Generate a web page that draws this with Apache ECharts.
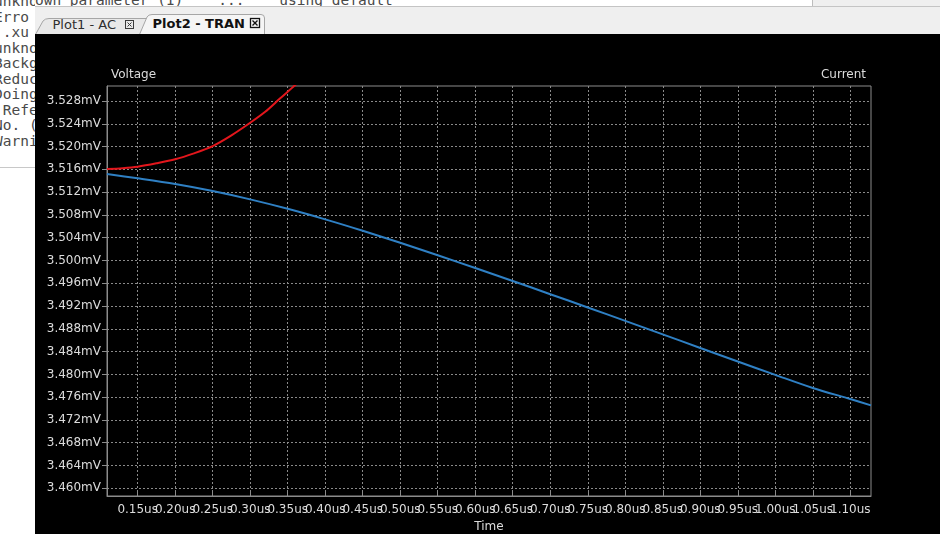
<!DOCTYPE html>
<html>
<head>
<meta charset="utf-8">
<script src="https://cdn.jsdelivr.net/npm/echarts@6/dist/echarts.min.js"></script>
<style>
  html, body { margin: 0; padding: 0; width: 940px; height: 534px; overflow: hidden; background: #ffffff; font-family: "DejaVu Sans", sans-serif; }
  #console { position: absolute; left: 0; top: 0; width: 35px; height: 167px; overflow: hidden; background: #fff; }
  #console pre { position: absolute; left: -6px; top: -6px; margin: 0; font-family: "DejaVu Sans Mono", monospace; font-size: 14.5px; line-height: 15.5px; color: #4a4a4a; }
  #topline { position: absolute; left: 0; top: -8px; width: 812px; height: 14px; overflow: hidden; font-family: "DejaVu Sans Mono", monospace; font-size: 14.5px; color: #4a4a4a; white-space: pre; background: #fff; }
  #sep { position: absolute; left: 0; top: 167px; width: 35px; height: 1px; background: #c8c8c8; }
  #rightstrip { position: absolute; left: 812px; top: 0; width: 128px; height: 9px; background: #efefef; border-left: 1px solid #bdbdbd; }
  #panel { position: absolute; left: 35px; top: 6px; width: 905px; height: 528px; background: #efefef; border-top: 1px solid #c4c4c4; }
  #tabs { position: absolute; left: 0; top: 0; }
  .tl { position: absolute; font-size: 13px; color: #2e2e2e; white-space: nowrap; line-height: 16px; }
  #chart { position: absolute; left: 35px; top: 34px; width: 905px; height: 500px; background: #000; }
</style>
</head>
<body>
<div id="topline">unknown parameter (1)    ...    using default</div>
<div id="rightstrip"></div>
<div id="console"><pre>
unknown parameter
Erro  r: check
:.xu subcircuit
unknown model
Background thread
Reduced analysis
Doing analysis
 Reference value
No. (data rows)
Warning: no data</pre></div>
<div id="sep"></div>
<div id="panel">
  <svg id="tabs" width="300" height="28" viewBox="0 0 300 28">
    <path d="M0.5,27.5 L8,14 Q10,11.5 14,11.5 L112,11.5 L112,27.5" fill="#e8e8e8" stroke="#a6a6a6" stroke-width="1"/>
    <path d="M104.5,27.5 L112,10 Q113.5,7.5 117,7.5 L226,7.5 Q229.5,7.5 229.5,11 L229.5,27.5" fill="#f5f5f5" stroke="#a6a6a6" stroke-width="1"/>
    <line x1="0" y1="27.5" x2="104.5" y2="27.5" stroke="#a6a6a6"/>
    <line x1="229.5" y1="27.5" x2="905" y2="27.5" stroke="#a6a6a6"/>
    <g stroke="#3a3a3a" stroke-width="1" fill="none">
      <rect x="90.5" y="13.5" width="8" height="8"/>
      <path d="M92.5,15.5 L96.5,19.5 M96.5,15.5 L92.5,19.5"/>
    </g>
    <g stroke="#111" stroke-width="1.3" fill="none">
      <rect x="215.5" y="11.5" width="9" height="9"/>
      <path d="M217.5,13.5 L222.5,18.5 M222.5,13.5 L217.5,18.5"/>
    </g>
  </svg>
  <div class="tl" style="left:17.5px; top:10px;">Plot1 - AC</div>
  <div class="tl" style="left:117.5px; top:9px; font-weight:bold; color:#111;">Plot2 - TRAN</div>
</div>
<div id="chart"></div>
<script>
// ---- data (time in us, voltage in mV) ----
const xTicks = [0.15, 0.20, 0.25, 0.30, 0.35, 0.40, 0.45, 0.50, 0.55, 0.60, 0.65, 0.70, 0.75, 0.80, 0.85, 0.90, 0.95, 1.00, 1.05, 1.10];
const yTicks = [3.460, 3.464, 3.468, 3.472, 3.476, 3.480, 3.484, 3.488, 3.492, 3.496, 3.500, 3.504, 3.508, 3.512, 3.516, 3.520, 3.524, 3.528];

const redTime  = [0.1091, 0.13, 0.15, 0.175, 0.20, 0.225, 0.25, 0.275, 0.30, 0.32, 0.34, 0.36, 0.38];
const redVolt  = [3.51605, 3.5162, 3.51646, 3.51705, 3.51776, 3.51881, 3.52009, 3.52197, 3.52418, 3.52611, 3.52847, 3.5308, 3.5333];

const blueTime = [0.1091, 0.15, 0.20, 0.25, 0.30, 0.35, 0.40, 0.45, 0.50, 0.55, 0.60, 0.65, 0.70, 0.75, 0.80, 0.85, 0.90, 0.95, 1.00, 1.05, 1.10, 1.1276];
const blueVolt = [3.51517, 3.51442, 3.51342, 3.51219, 3.51073, 3.50907, 3.50722, 3.50522, 3.50310, 3.50092, 3.49868, 3.49640, 3.49408, 3.49175, 3.48940, 3.48703, 3.48464, 3.48226, 3.47992, 3.47762, 3.47567, 3.47456];

const xMin = 0.1091, xMax = 1.1276;
const yMin = 3.45865, yMax = 3.53063;

const pairs = (xs, ys) => xs.map((x, i) => [x, ys[i]]);
const isTick = (list, v) => list.some(t => Math.abs(t - v) < 1e-9);

const chart = echarts.init(document.getElementById('chart'));
const txt = '#dcdcdc';
const axisGray = '#8c8c8c';
chart.setOption({
  backgroundColor: '#000000',
  animation: false,
  textStyle: { fontFamily: 'DejaVu Sans' },
  grid: { left: 72, top: 52, right: 69, bottom: 38, containLabel: false, outerBoundsMode: 'none',
          show: true, borderColor: axisGray, borderWidth: 1, backgroundColor: 'transparent' },
  graphic: [
    { type: 'text', left: 76, top: 35, style: { text: 'Voltage', fill: txt, font: '12px "DejaVu Sans"' } },
    { type: 'text', right: 905 - 831, top: 35, style: { text: 'Current', fill: txt, font: '12px "DejaVu Sans"' } }
  ],
  xAxis: {
    type: 'value',
    min: xMin, max: xMax,
    splitNumber: 20, minInterval: 0.05, maxInterval: 0.05,
    name: 'Time', nameLocation: 'middle', nameGap: 23,
    nameTextStyle: { color: txt, fontSize: 12, fontFamily: 'DejaVu Sans' },
    axisLine: { show: true, lineStyle: { color: axisGray, width: 1 } },
    axisTick: { show: true, inside: true, length: 5, lineStyle: { color: axisGray }, customValues: xTicks },
    axisLabel: { color: txt, fontSize: 12, fontFamily: 'DejaVu Sans', margin: 8, hideOverlap: false,
                 showMinLabel: true, showMaxLabel: true, customValues: [xMin].concat(xTicks, [xMax]),
                 formatter: v => isTick(xTicks, v) ? v.toFixed(2) + 'us' : '' },
    splitLine: { show: true, lineStyle: { color: '#8a8a8a', type: [2, 2], width: 1 } }
  },
  yAxis: {
    type: 'value',
    min: yMin, max: yMax,
    splitNumber: 18, minInterval: 0.004, maxInterval: 0.004,
    axisLine: { show: true, lineStyle: { color: axisGray, width: 1 } },
    axisTick: { show: true, inside: false, length: 5, lineStyle: { color: axisGray }, customValues: yTicks },
    axisLabel: { color: txt, fontSize: 12, fontFamily: 'DejaVu Sans', margin: 6,
                 showMinLabel: true, showMaxLabel: true, customValues: yTicks,
                 formatter: v => v.toFixed(3) + 'mV' },
    splitLine: { show: true, lineStyle: { color: '#8a8a8a', type: [2, 2], width: 1 } }
  },
  series: [
    { name: 'V(in)', type: 'line', data: pairs(redTime, redVolt), showSymbol: false, smooth: 0.3, clip: true,
      lineStyle: { color: '#e3161c', width: 2 }, itemStyle: { color: '#e3161c' } },
    { name: 'V(out)', type: 'line', data: pairs(blueTime, blueVolt), showSymbol: false, smooth: 0.3, clip: true,
      lineStyle: { color: '#2f80c4', width: 2 }, itemStyle: { color: '#2f80c4' } }
  ]
});
</script>
</body>
</html>
